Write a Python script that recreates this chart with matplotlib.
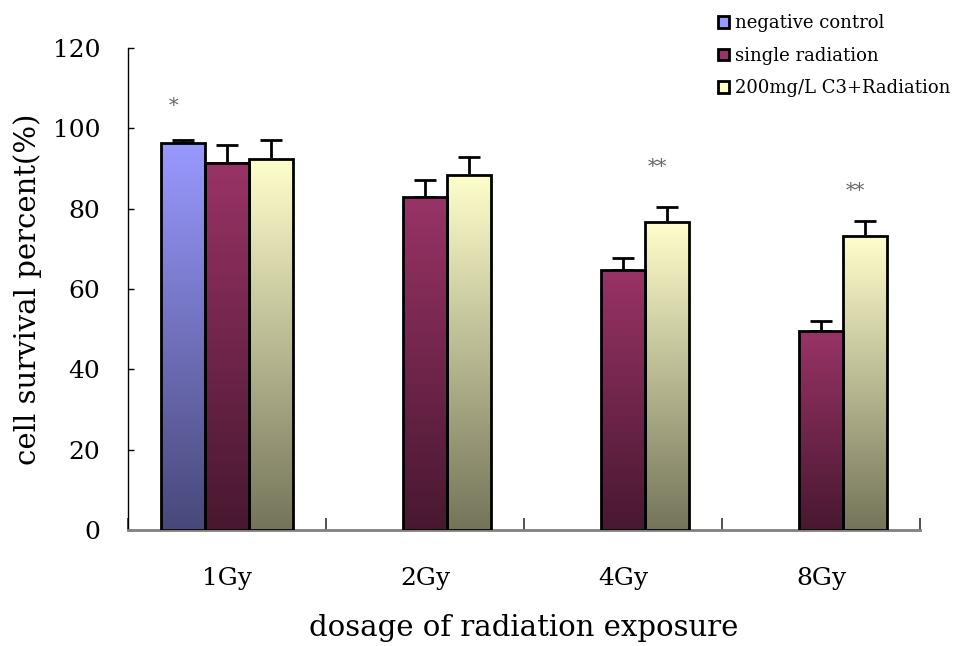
import matplotlib
matplotlib.use("Agg")
import matplotlib.pyplot as plt
import numpy as np
from matplotlib.patches import Patch
from matplotlib.colors import LinearSegmentedColormap

categories = ["1Gy", "2Gy", "4Gy", "8Gy"]
series_names = ["negative control", "single radiation", "200mg/L C3+Radiation"]
neg_vals = [96.3, None, None, None]
neg_err = [0.9, None, None, None]
single_vals = [91.4, 82.9, 64.7, 49.5]
single_err = [4.4, 4.2, 3.0, 2.6]
c3_vals = [92.4, 88.4, 76.7, 73.3]
c3_err = [4.6, 4.5, 3.7, 3.7]
sig_marks = ["*", "**", "**"]
sig_cats = [0, 2, 3]
sig_series = [0, 2, 2]
sig_y = [105.5, 90.3, 84.5]

top_colors = ["#9999FF", "#993366", "#FFFFCC"]
bot_colors = ["#48487A", "#481830", "#74745A"]

FONT = "DejaVu Serif"

fig = plt.figure(figsize=(9.6, 6.46), dpi=100)
ax = fig.add_axes([128/960, 1-530/646, 792/960, 482/646])

w = 44/198
offsets = [-w, 0, w]
all_vals = [neg_vals, single_vals, c3_vals]
all_errs = [neg_err, single_err, c3_err]

grad = np.linspace(1, 0, 256).reshape(-1, 1)
for s in range(3):
    cmap = LinearSegmentedColormap.from_list(f"g{s}", [bot_colors[s], top_colors[s]])
    xs, hs, es = [], [], []
    for i, v in enumerate(all_vals[s]):
        if v is None:
            continue
        xs.append(i + offsets[s]); hs.append(v); es.append(all_errs[s][i])
    bars = ax.bar(xs, hs, width=w, facecolor="none", edgecolor="black",
                  linewidth=2, zorder=3)
    for b in bars:
        x0, h = b.get_x(), b.get_height()
        ax.imshow(grad, cmap=cmap, aspect="auto", extent=[x0, x0 + w, 0, h],
                  zorder=2, interpolation="bilinear", vmin=0, vmax=1)
    ax.errorbar(xs, hs, yerr=[np.zeros(len(es)), es], fmt="none", ecolor="black",
                elinewidth=2, capsize=8, capthick=2, zorder=1)
ax.set_xlim(-0.5, 3.5)
ax.set_ylim(0, 120)

for txt, cat, s, y in zip(sig_marks, sig_cats, sig_series, sig_y):
    ax.text(cat + offsets[s] - 0.05, y, txt, ha="center", va="center",
            color="#666666", fontsize=14, family=FONT)

for sp in ["top", "right"]:
    ax.spines[sp].set_visible(False)
ax.spines["left"].set_color("black")
ax.spines["left"].set_linewidth(1)
ax.spines["bottom"].set_color("#808080")
ax.spines["bottom"].set_linewidth(2)

ax.set_yticks(np.arange(0, 121, 20))
ax.tick_params(axis="y", direction="in", length=4, width=1, pad=20,
               labelsize=18)
ax.set_xticks(range(4))
ax.set_xticklabels(categories)
ax.set_xticks([-0.5, 0.5, 1.5, 2.5, 3.5], minor=True)
ax.tick_params(axis="x", which="major", length=0, pad=27, labelsize=18)
ax.tick_params(axis="x", which="minor", direction="in", length=9, width=1.2,
               color="#333333")
for lab in ax.get_xticklabels() + ax.get_yticklabels():
    lab.set_family(FONT)

ax.set_xlabel("dosage of radiation exposure", fontsize=21, family=FONT, labelpad=17)
ax.set_ylabel("cell survival percent(%)", fontsize=21, family=FONT, labelpad=8)

handles = [Patch(facecolor=top_colors[i], edgecolor="black", linewidth=2)
           for i in range(3)]
leg = fig.legend(handles, series_names, loc="upper left",
                 bbox_to_anchor=(702/960, 1.003), frameon=False,
                 prop={"family": FONT, "size": 13}, handlelength=0.6,
                 handleheight=0.6, handletextpad=0.35, labelspacing=0.8)

fig.savefig("out.png", dpi=100)
